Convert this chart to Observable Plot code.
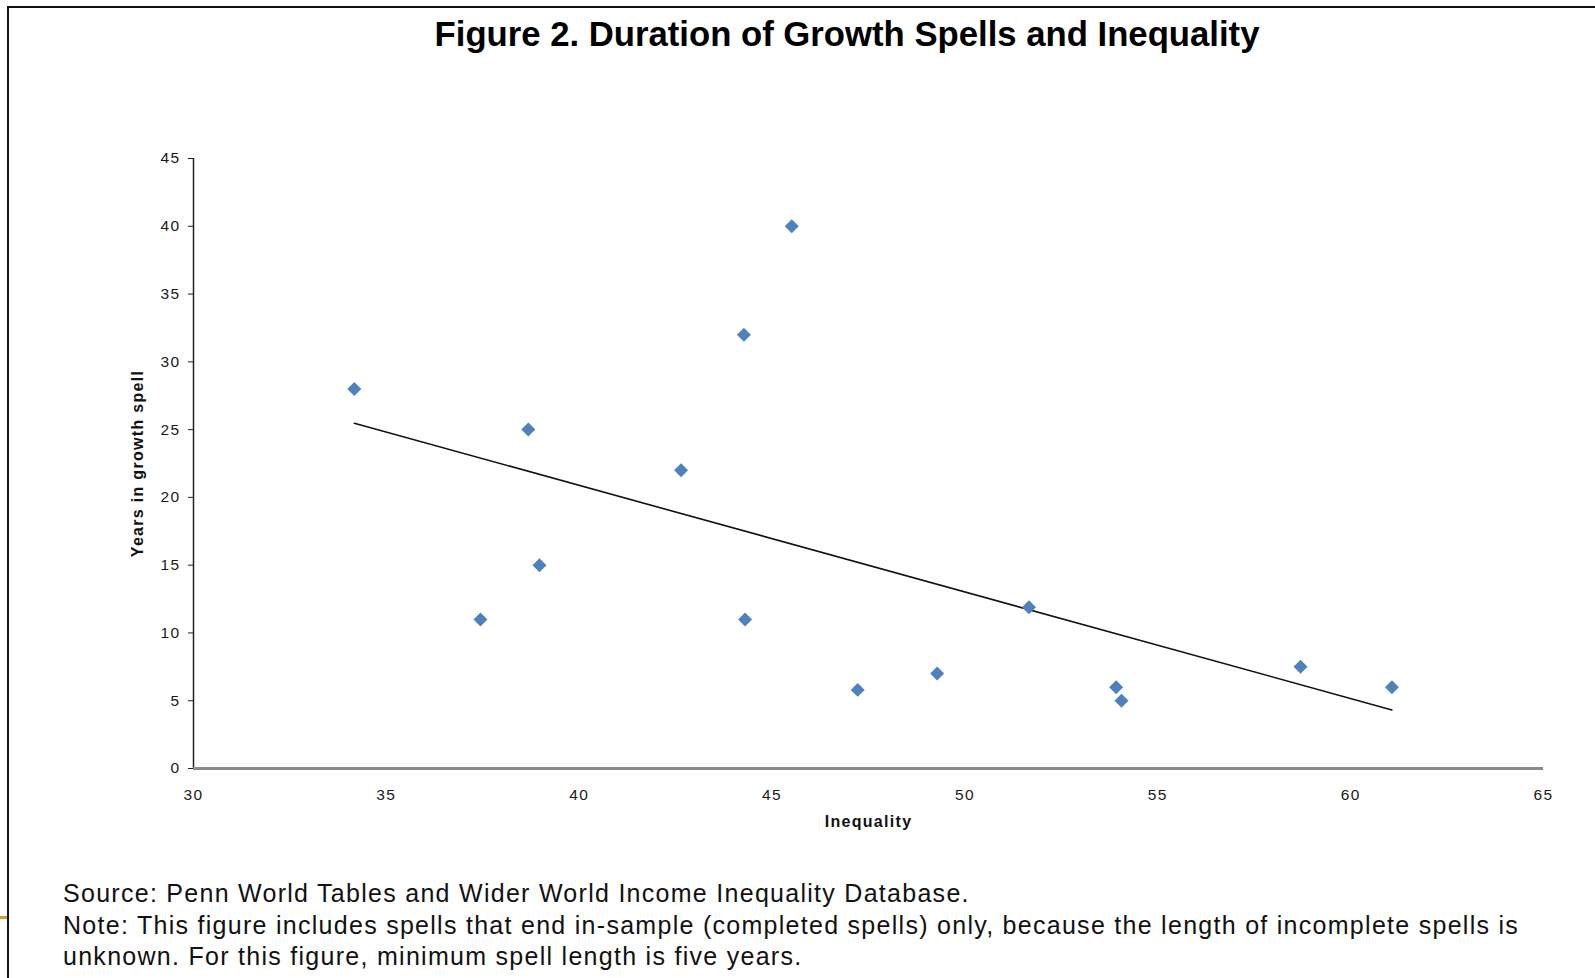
<!DOCTYPE html>
<html>
<head>
<meta charset="utf-8">
<script src="https://cdn.jsdelivr.net/npm/d3@7"></script>
<script src="https://cdn.jsdelivr.net/npm/@observablehq/plot@0.6"></script>
<style>
  html, body { margin: 0; padding: 0; background: #fff; }
  body { width: 1595px; height: 978px; position: relative; overflow: hidden; font-family: "Liberation Sans", Arial, sans-serif; }
  .bt { position: absolute; left: 7px; top: 6px; right: 0; height: 2px; background: #111; }
  .bl { position: absolute; left: 7px; top: 6px; bottom: 0; width: 2px; background: #111; }
  .gold { position: absolute; left: 0; top: 916px; width: 7px; height: 3px; background: #C9A227; }
  #title { position: absolute; left: 0; top: 15px; width: 1694px; text-align: center; font-weight: bold; font-size: 34.7px; color: #000; }
  #chart { position: absolute; left: 0; top: 120px; }
  #chart svg g[aria-label="text"] text { letter-spacing: 1.3px; }
  #chart svg g[aria-label="y-axis tick label"] text,
  #chart svg g[aria-label="x-axis tick label"] text { letter-spacing: 1.4px; }
  #caption { position: absolute; left: 63px; top: 878px; font-size: 25px; letter-spacing: 1.28px; line-height: 31.5px; color: #111; white-space: nowrap; }
</style>
</head>
<body>
<div class="bt"></div>
<div class="bl"></div>
<div class="gold"></div>
<div id="title">Figure 2. Duration of Growth Spells and Inequality</div>
<div id="chart"></div>
<div id="caption">Source: Penn World Tables and Wider World Income Inequality Database.<br>Note: This figure includes spells that end in-sample (completed spells) only, because the length of incomplete spells is<br>unknown. For this figure, minimum spell length is five years.</div>
<script>
const inequality = [34.17, 37.44, 38.68, 38.97, 42.64, 44.27, 44.30, 45.51, 47.22, 49.28, 51.66, 53.92, 54.06, 58.70, 61.07];
const years      = [28,    11,    25,    15,    22,    32,    11,    40,    5.8,   7,     11.9,  6,     5,     7.5,   6];
const xTicks = [30, 35, 40, 45, 50, 55, 60, 65];
const yTicks = [0, 5, 10, 15, 20, 25, 30, 35, 40, 45];
const xLabel = "Inequality";
const yLabel = "Years in growth spell";

const data = inequality.map((x, i) => ({x, y: years[i]}));

const chart = Plot.plot({
  width: 1595,
  height: 720,
  marginLeft: 193,
  marginRight: 52,
  marginTop: 38,
  marginBottom: 72,
  style: {fontFamily: "'Liberation Sans', Arial, sans-serif", background: "transparent"},
  x: {domain: [30, 65]},
  y: {domain: [0, 45]},
  marks: [
    Plot.ruleX([30], {y1: 0, y2: 45, stroke: "#222", strokeWidth: 1.5}),
    Plot.axisY({ticks: yTicks, tickSize: 5, tickPadding: 8, fontSize: 15.5, fill: "#1a1a1a", stroke: "#222", label: null}),
    Plot.axisX({ticks: xTicks, tickSize: 0, tickPadding: 20, fontSize: 15.5, fill: "#1a1a1a", label: null}),
    Plot.ruleY([0], {stroke: "#8a8a8a", strokeWidth: 3}),
    Plot.linearRegressionY(data, {x: "x", y: "y", ci: 0, stroke: "#111", strokeWidth: 1.6}),
    Plot.dot(data, {x: "x", y: "y", symbol: "diamond2", r: 6.3, fill: "#4F81BD", stroke: "none"}),
    Plot.text([xLabel], {frameAnchor: "bottom", text: d => d, dy: 58, fontSize: 16, fontWeight: "bold", fill: "#111"}),
    Plot.text([yLabel], {frameAnchor: "left", textAnchor: "middle", text: d => d, dx: -56, rotate: -90, fontSize: 16, fontWeight: "bold", fill: "#111"})
  ]
});
document.getElementById("chart").appendChild(chart);
</script>
</body>
</html>
